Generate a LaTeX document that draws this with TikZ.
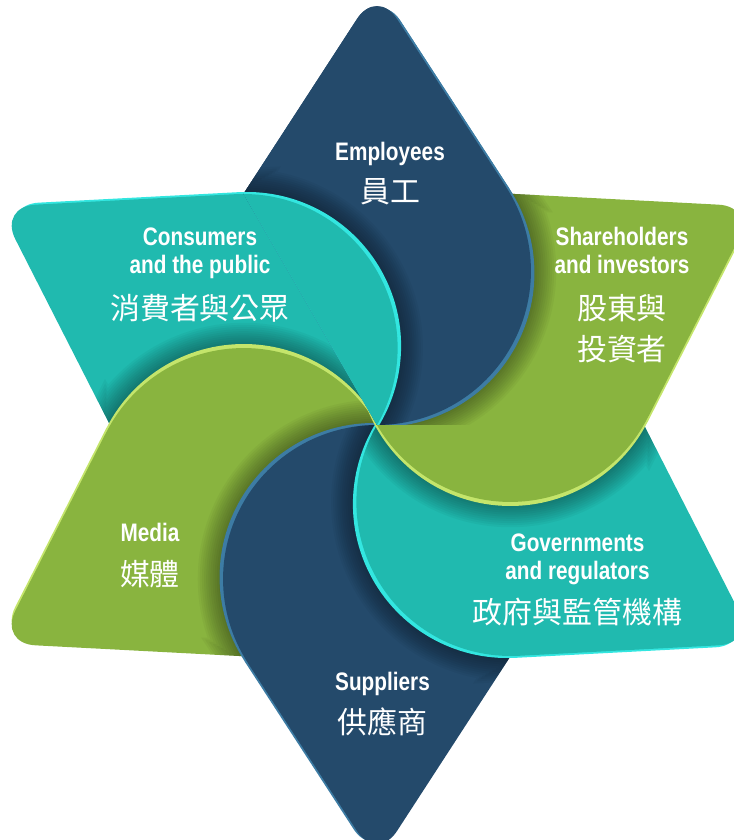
\documentclass[tikz,border=0pt]{standalone}
\usepackage{fontspec}
\newfontfamily\enfont[FakeStretch=0.82]{Liberation Sans}
\newfontfamily\zhfont{Noto Sans CJK TC}
\definecolor{leafnavy}{HTML}{244A6B}
\definecolor{leafnavyrim}{HTML}{3D7CA4}
\definecolor{leafteal}{HTML}{20BAAF}
\definecolor{leaftealrim}{HTML}{33E6E0}
\definecolor{leafgreen}{HTML}{89B43F}
\definecolor{leafgreenrim}{HTML}{C4E56B}
% one leaf, pointing up, its round end through the centre
\newcommand{\leafpath}{(129.2,237.9) [rounded corners=26pt] -- (0,436.8) -- (-129.2,237.9) [sharp corners] arc[start angle=147,end angle=393,radius=154] -- cycle}
% #1 angle, #2 angle of the leaf under it, #3 fill, #4 rim
\newcommand{\drawleaf}[4]{%
  \begin{scope}
    \clip[rotate=#2-90] \leafpath;
    \foreach \w in {3,6,...,36}{
      \draw[rotate=#1-90,black,opacity=.035,line width=\w pt] \leafpath;}
  \end{scope}
  \fill[rotate=#1-90,#4,shift={(3.5,-2)}] \leafpath;
  \fill[rotate=#1-90,#3] \leafpath;}
\tikzset{
  en/.style={text=white,anchor=base,inner sep=0pt,font=\enfont\bfseries\fontsize{18}{20}\selectfont},
  zh/.style={text=white,anchor=base,inner sep=0pt,font=\zhfont\fontsize{21.3}{25}\selectfont}}
\begin{document}
\begin{tikzpicture}[x=0.025cm,y=0.025cm]
    \useasboundingbox (-377,-415) rectangle (356,425);
    % leaves, each over the one clockwise of it
    \foreach \a/\b/\c/\d in {90/30/leafnavy/leafnavyrim, 150/90/leafteal/leaftealrim,
                             210/150/leafgreen/leafgreenrim, 270/210/leafnavy/leafnavyrim,
                             330/270/leafteal/leaftealrim, 30/330/leafgreen/leafgreenrim}{
      \drawleaf{\a}{\b}{\c}{\d}}
    % close the ring: employees back over shareholders
    \begin{scope}
      \clip (0,0) -- (0:500) -- (40:500) -- (80:500) -- (120:500) -- cycle;
      \drawleaf{90}{30}{leafnavy}{leafnavyrim}
      \drawleaf{150}{90}{leafteal}{leaftealrim}
    \end{scope}
    \node[en] (emp-en) at (13,264.5) {Employees};
    \node[zh] (emp-zh) at (13,222) {員工};
    \node[en] (con-en1) at (-177,179.5) {Consumers};
    \node[en] (con-en2) at (-177,151) {and the public};
    \node[zh] (con-zh) at (-177,105) {消費者與公眾};
    \node[en] (sha-en1) at (245,179) {Shareholders};
    \node[en] (sha-en2) at (245,151) {and investors};
    \node[zh] (sha-zh1) at (245,105) {股東與};
    \node[zh] (sha-zh2) at (245,64) {投資者};
    \node[en] (med-en) at (-227,-116) {Media};
    \node[zh] (med-zh) at (-227,-160) {媒體};
    \node[en] (gov-en1) at (200.5,-126) {Governments};
    \node[en] (gov-en2) at (200.5,-154) {and regulators};
    \node[zh] (gov-zh) at (200.5,-198) {政府與監管機構};
    \node[en] (sup-en) at (5.5,-265.5) {Suppliers};
    \node[zh] (sup-zh) at (5.5,-308) {供應商};
\end{tikzpicture}
\end{document}
